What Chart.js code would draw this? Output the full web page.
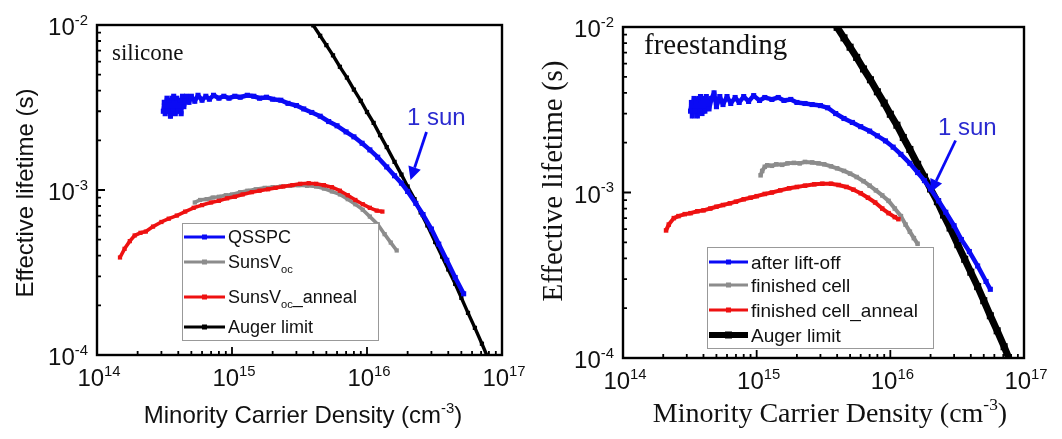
<!DOCTYPE html>
<html>
<head>
<meta charset="utf-8">
<title>Effective lifetime vs minority carrier density</title>
<script src="https://cdn.jsdelivr.net/npm/chart.js@4/dist/chart.umd.min.js"></script>
<style>
  body { margin: 0; background: #fff; }
  #wrap { display: flex; width: 1062px; height: 439px; }
</style>
</head>
<body>
<div id="wrap">
  <canvas id="left" width="531" height="439"></canvas>
  <canvas id="right" width="531" height="439"></canvas>
</div>
<script>
// axis ticks
const xTickValues = [1e14, 1e15, 1e16, 1e17];
const xTickExp = ['14', '15', '16', '17'];
const yTickValues = [1e-4, 1e-3, 1e-2];
const yTickExp = ['-4', '-3', '-2'];

// Auger limit (same in both panels)
const augerN = [3.5e15, 4.0e15, 4.5e15, 5.0e15, 5.6e15, 6.3e15, 7.1e15, 8.0e15, 9.0e15, 1.0e16,
  1.12e16, 1.25e16, 1.4e16, 1.6e16, 1.8e16, 2.0e16, 2.25e16, 2.5e16, 2.8e16, 3.2e16,
  3.6e16, 4.0e16, 4.5e16, 5.0e16, 5.6e16, 6.3e16, 7.1e16, 8.0e16];
const augerTau = [1.17e-2, 9.95e-3, 8.6e-3, 7.55e-3, 6.55e-3, 5.58e-3, 4.8e-3, 4.06e-3, 3.47e-3, 2.97e-3,
  2.55e-3, 2.15e-3, 1.82e-3, 1.48e-3, 1.24e-3, 1.05e-3, 8.8e-4, 7.31e-4, 6.1e-4, 4.84e-4,
  3.95e-4, 3.3e-4, 2.7e-4, 2.22e-4, 1.8e-4, 1.46e-4, 1.17e-4, 9.3e-5];

// silicone panel
const qsspcN = [3.1e14, 3.15e14, 3.2e14, 3.3e14, 3.35e14, 3.4e14, 3.5e14, 3.6e14, 3.65e14, 3.7e14,
  3.8e14, 3.9e14, 4.0e14, 4.1e14, 4.2e14, 4.3e14, 4.4e14, 4.6e14, 4.8e14, 5.0e14,
  5.3e14, 5.6e14, 6.0e14, 6.4e14, 6.8e14, 7.3e14, 8.0e14, 8.7e14, 9.5e14, 1.05e15,
  1.15e15, 1.3e15, 1.45e15, 1.6e15, 1.8e15, 2.0e15, 2.3e15, 2.6e15, 3.0e15, 3.4e15,
  3.9e15, 4.5e15, 5.2e15, 6.0e15, 7.0e15, 8.0e15, 9.2e15, 1.05e16, 1.2e16, 1.4e16,
  1.6e16, 1.8e16, 2.0e16, 2.3e16, 2.6e16, 3.0e16, 3.4e16, 3.9e16, 4.5e16, 5.2e16];
const qsspcTau = [3.0e-3, 3.4e-3, 2.9e-3, 3.6e-3, 3.0e-3, 3.5e-3, 2.8e-3, 3.6e-3, 3.0e-3, 3.7e-3,
  2.9e-3, 3.6e-3, 3.0e-3, 3.5e-3, 2.9e-3, 3.7e-3, 3.2e-3, 3.7e-3, 3.4e-3, 3.7e-3,
  3.45e-3, 3.75e-3, 3.5e-3, 3.7e-3, 3.55e-3, 3.75e-3, 3.6e-3, 3.7e-3, 3.6e-3, 3.7e-3,
  3.65e-3, 3.75e-3, 3.7e-3, 3.6e-3, 3.65e-3, 3.55e-3, 3.5e-3, 3.35e-3, 3.25e-3, 3.1e-3,
  2.95e-3, 2.8e-3, 2.6e-3, 2.45e-3, 2.25e-3, 2.1e-3, 1.92e-3, 1.75e-3, 1.58e-3, 1.38e-3,
  1.22e-3, 1.1e-3, 9.8e-4, 8.3e-4, 7.1e-4, 5.8e-4, 4.7e-4, 3.75e-4, 2.95e-4, 2.35e-4];

const sunsN = [5.3e14, 5.8e14, 6.5e14, 7.2e14, 8.0e14, 9.0e14, 1.0e15, 1.15e15, 1.3e15, 1.5e15,
  1.75e15, 2.0e15, 2.3e15, 2.7e15, 3.1e15, 3.6e15, 4.2e15, 4.8e15, 5.5e15, 6.3e15,
  7.2e15, 8.2e15, 9.3e15, 1.05e16, 1.2e16, 1.35e16, 1.5e16, 1.66e16];
const sunsTau = [8.4e-4, 8.7e-4, 8.8e-4, 9.0e-4, 9.1e-4, 9.3e-4, 9.4e-4, 9.7e-4, 9.9e-4, 1.01e-3,
  1.03e-3, 1.04e-3, 1.05e-3, 1.06e-3, 1.07e-3, 1.06e-3, 1.05e-3, 1.02e-3, 9.8e-4, 9.4e-4,
  8.8e-4, 8.2e-4, 7.6e-4, 6.9e-4, 6.2e-4, 5.4e-4, 4.8e-4, 4.3e-4];

const sunsAnnealN = [1.48e14, 1.6e14, 1.75e14, 1.9e14, 2.1e14, 2.3e14, 2.6e14, 3.0e14, 3.4e14, 3.9e14,
  4.5e14, 5.2e14, 6.0e14, 7.0e14, 8.0e14, 9.2e14, 1.05e15, 1.2e15, 1.4e15, 1.6e15,
  1.85e15, 2.1e15, 2.4e15, 2.8e15, 3.2e15, 3.7e15, 4.2e15, 4.8e15, 5.5e15, 6.3e15,
  7.2e15, 8.2e15, 9.3e15, 1.05e16, 1.18e16, 1.3e16];
const sunsAnnealTau = [3.9e-4, 4.4e-4, 4.9e-4, 5.3e-4, 5.5e-4, 5.6e-4, 6.0e-4, 6.4e-4, 6.7e-4, 7.0e-4,
  7.4e-4, 7.8e-4, 8.1e-4, 8.4e-4, 8.6e-4, 8.9e-4, 9.1e-4, 9.4e-4, 9.7e-4, 9.9e-4,
  1.01e-3, 1.03e-3, 1.05e-3, 1.07e-3, 1.09e-3, 1.1e-3, 1.09e-3, 1.07e-3, 1.04e-3, 9.9e-4,
  9.3e-4, 8.7e-4, 8.2e-4, 7.8e-4, 7.5e-4, 7.4e-4];

// freestanding panel
const liftN = [3.2e14, 3.25e14, 3.3e14, 3.4e14, 3.45e14, 3.5e14, 3.6e14, 3.7e14, 3.75e14, 3.8e14,
  3.9e14, 4.0e14, 4.1e14, 4.2e14, 4.4e14, 4.6e14, 4.8e14, 5.0e14, 5.3e14, 5.6e14,
  6.0e14, 6.4e14, 6.9e14, 7.4e14, 8.0e14, 8.7e14, 9.5e14, 1.05e15, 1.15e15, 1.3e15,
  1.45e15, 1.6e15, 1.8e15, 2.0e15, 2.3e15, 2.6e15, 3.0e15, 3.4e15, 3.9e15, 4.5e15,
  5.2e15, 6.0e15, 7.0e15, 8.0e15, 9.2e15, 1.05e16, 1.2e16, 1.4e16, 1.6e16, 1.8e16,
  2.0e16, 2.3e16, 2.6e16, 3.0e16, 3.4e16, 3.9e16, 4.5e16, 5.2e16, 5.6e16];
const liftTau = [3.1e-3, 3.5e-3, 2.9e-3, 3.7e-3, 3.1e-3, 3.6e-3, 2.9e-3, 3.7e-3, 3.1e-3, 3.8e-3,
  3.0e-3, 3.7e-3, 3.1e-3, 3.8e-3, 3.2e-3, 3.7e-3, 4.0e-3, 3.3e-3, 3.8e-3, 3.4e-3,
  3.8e-3, 3.45e-3, 3.75e-3, 3.5e-3, 3.8e-3, 3.55e-3, 3.85e-3, 3.6e-3, 3.75e-3, 3.65e-3,
  3.75e-3, 3.6e-3, 3.65e-3, 3.5e-3, 3.45e-3, 3.4e-3, 3.35e-3, 3.25e-3, 3.0e-3, 2.8e-3,
  2.65e-3, 2.5e-3, 2.35e-3, 2.2e-3, 2.05e-3, 1.88e-3, 1.7e-3, 1.5e-3, 1.32e-3, 1.18e-3,
  1.05e-3, 8.9e-4, 7.6e-4, 6.3e-4, 5.2e-4, 4.4e-4, 3.6e-4, 2.9e-4, 2.6e-4];

const cellN = [1.07e15, 1.1e15, 1.15e15, 1.2e15, 1.3e15, 1.4e15, 1.55e15, 1.7e15, 1.9e15, 2.1e15,
  2.3e15, 2.6e15, 2.9e15, 3.2e15, 3.6e15, 4.0e15, 4.5e15, 5.0e15, 5.6e15, 6.3e15,
  7.0e15, 7.8e15, 8.7e15, 9.7e15, 1.08e16, 1.2e16, 1.3e16, 1.4e16, 1.5e16, 1.6e16];
const cellTau = [1.27e-3, 1.35e-3, 1.43e-3, 1.46e-3, 1.45e-3, 1.48e-3, 1.47e-3, 1.5e-3, 1.51e-3, 1.5e-3,
  1.53e-3, 1.52e-3, 1.5e-3, 1.48e-3, 1.44e-3, 1.4e-3, 1.35e-3, 1.3e-3, 1.24e-3, 1.17e-3,
  1.1e-3, 1.03e-3, 9.6e-4, 8.9e-4, 8.0e-4, 7.2e-4, 6.4e-4, 5.8e-4, 5.3e-4, 4.9e-4];

const cellAnnealN = [2.1e14, 2.2e14, 2.4e14, 2.6e14, 2.9e14, 3.2e14, 3.6e14, 4.0e14, 4.5e14, 5.0e14,
  5.6e14, 6.3e14, 7.0e14, 8.0e14, 9.0e14, 1.0e15, 1.15e15, 1.3e15, 1.5e15, 1.75e15,
  2.0e15, 2.3e15, 2.7e15, 3.1e15, 3.6e15, 4.1e15, 4.7e15, 5.3e15, 6.0e15, 6.8e15,
  7.7e15, 8.7e15, 9.7e15, 1.08e16, 1.15e16];
const cellAnnealTau = [5.9e-4, 6.4e-4, 7.0e-4, 7.2e-4, 7.4e-4, 7.5e-4, 7.7e-4, 7.8e-4, 8.0e-4, 8.2e-4,
  8.4e-4, 8.6e-4, 8.8e-4, 9.1e-4, 9.3e-4, 9.5e-4, 9.8e-4, 1.0e-3, 1.03e-3, 1.06e-3,
  1.08e-3, 1.1e-3, 1.12e-3, 1.13e-3, 1.13e-3, 1.11e-3, 1.08e-3, 1.04e-3, 9.9e-4, 9.3e-4,
  8.7e-4, 8.0e-4, 7.5e-4, 7.1e-4, 6.9e-4];

// "1 sun" operating point each arrow points at
const oneSunLeft = { n: 2.1e16, tau: 1.15e-3 };
const oneSunRight = { n: 2.0e16, tau: 1.0e-3 };

const BLUE = '#0a0af5';
const GRAY = '#8c8c8c';
const RED = '#ee1111';
const BLACK = '#000000';
const sans = '"Liberation Sans", Arial, sans-serif';
const serif = '"Liberation Serif", "Times New Roman", serif';

function pairs(xs, ys) {
  return xs.map((x, i) => ({ x: x, y: ys[i] }));
}

function series(label, xs, ys, color, width, radius, order) {
  return {
    label: label,
    data: pairs(xs, ys),
    showLine: true,
    borderColor: color,
    backgroundColor: color,
    borderWidth: width,
    borderJoinStyle: 'round',
    pointStyle: 'rect',
    pointRadius: radius,
    pointBorderWidth: 0,
    tension: 0,
    clip: 0,
    order: order
  };
}

function richWidth(ctx, segs, size, family) {
  let w = 0;
  segs.forEach(s => {
    ctx.font = (s.m ? size * 0.62 : size) + 'px ' + family;
    w += ctx.measureText(s.t).width;
  });
  return w;
}

function drawRich(ctx, segs, x, y, size, family, align) {
  const w = richWidth(ctx, segs, size, family);
  if (align === 'center') x -= w / 2;
  else if (align === 'right') x -= w;
  ctx.textAlign = 'left';
  ctx.textBaseline = 'alphabetic';
  segs.forEach(s => {
    const fs = s.m ? size * 0.62 : size;
    ctx.font = fs + 'px ' + family;
    const dy = s.m === 'sup' ? -size * 0.42 : s.m === 'sub' ? size * 0.25 : 0;
    ctx.fillText(s.t, x, y + dy);
    x += ctx.measureText(s.t).width;
  });
}

// frame, inward ticks, labels, legend and notes drawn over the data
const panelPlugin = {
  id: 'panel',
  afterDatasetsDraw(chart, args, o) {
    const ctx = chart.ctx;
    const a = chart.chartArea;
    const xs = chart.scales.x, ys = chart.scales.y;
    ctx.save();

    // legend box
    const lg = o.legend;
    ctx.fillStyle = '#fff';
    ctx.fillRect(lg.x, lg.y, lg.w, lg.h);
    ctx.strokeStyle = '#999';
    ctx.lineWidth = 1;
    ctx.strokeRect(lg.x + 0.5, lg.y + 0.5, lg.w, lg.h);
    lg.items.forEach(it => {
      ctx.strokeStyle = it.color;
      ctx.lineWidth = it.lw;
      ctx.beginPath();
      ctx.moveTo(lg.x + 2, it.y);
      ctx.lineTo(lg.x + lg.sample, it.y);
      ctx.stroke();
      ctx.fillStyle = it.color;
      const mx = lg.x + 2 + (lg.sample - 2) / 2;
      ctx.fillRect(mx - it.ms, it.y - it.ms, it.ms * 2, it.ms * 2);
      ctx.fillStyle = '#111';
      drawRich(ctx, it.segs, lg.x + lg.sample + 3, it.y + lg.font * 0.36, lg.font, sans, 'left');
    });

    // frame
    ctx.strokeStyle = '#000';
    ctx.lineWidth = 2.4;
    ctx.strokeRect(a.left, a.top, a.right - a.left, a.bottom - a.top);

    // ticks (left and bottom, inward)
    ctx.lineWidth = 1.8;
    ctx.beginPath();
    for (let d = 14; d < 17; d++) {
      for (let m = 1; m <= 9; m++) {
        const px = xs.getPixelForValue(m * Math.pow(10, d));
        const len = m === 1 ? 8 : 4;
        ctx.moveTo(px, a.bottom);
        ctx.lineTo(px, a.bottom - len);
      }
    }
    for (let d = -4; d < -2; d++) {
      for (let m = 1; m <= 9; m++) {
        const py = ys.getPixelForValue(m * Math.pow(10, d));
        const len = m === 1 ? 8 : 4;
        ctx.moveTo(a.left, py);
        ctx.lineTo(a.left + len, py);
      }
    }
    ctx.stroke();

    // tick labels
    ctx.fillStyle = '#111';
    xTickValues.forEach((v, i) => {
      drawRich(ctx, [{ t: '10' }, { t: xTickExp[i], m: 'sup' }], xs.getPixelForValue(v) + 2, a.bottom + 31, 24, sans, 'center');
    });
    yTickValues.forEach((v, i) => {
      drawRich(ctx, [{ t: '10' }, { t: yTickExp[i], m: 'sup' }], a.left - 9, ys.getPixelForValue(v) + 10, 24, sans, 'right');
    });

    // axis titles
    drawRich(ctx, [{ t: 'Minority Carrier Density (cm' }, { t: '-3', m: 'sup' }, { t: ')' }],
      o.xTitle.x, o.xTitle.y, o.xTitle.size, o.xTitle.family, 'center');
    ctx.save();
    ctx.translate(o.yTitle.x, o.yTitle.y);
    ctx.rotate(-Math.PI / 2);
    drawRich(ctx, [{ t: 'Effective lifetime (s)' }], 0, o.yTitle.size * 0.35, o.yTitle.size, o.yTitle.family, 'center');
    ctx.restore();

    // sample name
    ctx.fillStyle = '#111';
    drawRich(ctx, [{ t: o.note.text }], o.note.x, o.note.y, o.note.size, serif, 'left');

    // 1 sun arrow
    const s = o.sun;
    const tx = xs.getPixelForValue(s.point.n), ty = ys.getPixelForValue(s.point.tau);
    const fx = tx + s.dx, fy = ty + s.dy;
    const ang = Math.atan2(ty - fy, tx - fx);
    const head = 13;
    const bx = tx - head * Math.cos(ang), by = ty - head * Math.sin(ang);
    ctx.strokeStyle = BLUE;
    ctx.fillStyle = BLUE;
    ctx.lineWidth = 2.8;
    ctx.beginPath();
    ctx.moveTo(fx, fy);
    ctx.lineTo(bx, by);
    ctx.stroke();
    ctx.beginPath();
    ctx.moveTo(tx, ty);
    ctx.lineTo(bx + 6.5 * Math.sin(ang), by - 6.5 * Math.cos(ang));
    ctx.lineTo(bx - 6.5 * Math.sin(ang), by + 6.5 * Math.cos(ang));
    ctx.closePath();
    ctx.fill();
    ctx.fillStyle = '#2a2ad0';
    drawRich(ctx, [{ t: '1 sun' }], s.tx, s.ty, 24, sans, 'left');

    ctx.restore();
  }
};

function makePanel(id, datasets, pad, opts) {
  return new Chart(document.getElementById(id).getContext('2d'), {
    type: 'scatter',
    data: { datasets: datasets },
    options: {
      responsive: false,
      animation: false,
      devicePixelRatio: 1,
      layout: { padding: pad },
      scales: {
        x: { type: 'logarithmic', min: 1e14, max: 1e17, display: false },
        y: { type: 'logarithmic', min: 1e-4, max: 1e-2, display: false }
      },
      plugins: {
        legend: { display: false },
        tooltip: { enabled: false },
        panel: opts
      }
    },
    plugins: [panelPlugin]
  });
}

makePanel('left', [
  series('QSSPC', qsspcN, qsspcTau, BLUE, 4.5, 3.6, 1),
  series('SunsVoc_anneal', sunsAnnealN, sunsAnnealTau, RED, 3.6, 3, 2),
  series('SunsVoc', sunsN, sunsTau, GRAY, 3.6, 3, 3),
  series('Auger limit', augerN, augerTau, BLACK, 3.4, 3, 4)
], { left: 97, right: 29, top: 25, bottom: 84 }, {
  legend: {
    x: 182, y: 223, w: 196, h: 117, sample: 43, font: 18,
    items: [
      { segs: [{ t: 'QSSPC' }], color: BLUE, lw: 3, ms: 2.5, y: 237 },
      { segs: [{ t: 'SunsV' }, { t: 'oc', m: 'sub' }], color: GRAY, lw: 3, ms: 2.5, y: 262 },
      { segs: [{ t: 'SunsV' }, { t: 'oc', m: 'sub' }, { t: '_anneal' }], color: RED, lw: 3, ms: 2.5, y: 297 },
      { segs: [{ t: 'Auger limit' }], color: BLACK, lw: 3, ms: 2.5, y: 327 }
    ]
  },
  xTitle: { x: 303, y: 423, size: 24, family: sans },
  yTitle: { x: 25, y: 193, size: 24, family: sans },
  note: { text: 'silicone', x: 112, y: 60, size: 23 },
  sun: { point: oneSunLeft, dx: 16, dy: -48, tx: 407, ty: 125 }
});

makePanel('right', [
  series('after lift-off', liftN, liftTau, BLUE, 4.5, 3.6, 1),
  series('finished cell_anneal', cellAnnealN, cellAnnealTau, RED, 4, 3.2, 2),
  series('finished cell', cellN, cellTau, GRAY, 4, 3.2, 3),
  series('Auger limit', augerN, augerTau, BLACK, 7, 5, 4)
], { left: 92, right: 38, top: 27, bottom: 81 }, {
  legend: {
    x: 176, y: 247, w: 226, h: 101, sample: 41, font: 19,
    items: [
      { segs: [{ t: 'after lift-off' }], color: BLUE, lw: 3, ms: 2.5, y: 262 },
      { segs: [{ t: 'finished cell' }], color: GRAY, lw: 3, ms: 2.5, y: 285 },
      { segs: [{ t: 'finished cell_anneal' }], color: RED, lw: 3, ms: 2.5, y: 310 },
      { segs: [{ t: 'Auger limit' }], color: BLACK, lw: 6, ms: 3.5, y: 335 }
    ]
  },
  xTitle: { x: 299, y: 422, size: 28, family: serif },
  yTitle: { x: 21, y: 181, size: 29, family: serif },
  note: { text: 'freestanding', x: 113, y: 54, size: 29 },
  sun: { point: oneSunRight, dx: 25, dy: -52, tx: 407, ty: 135 }
});
</script>
</body>
</html>
